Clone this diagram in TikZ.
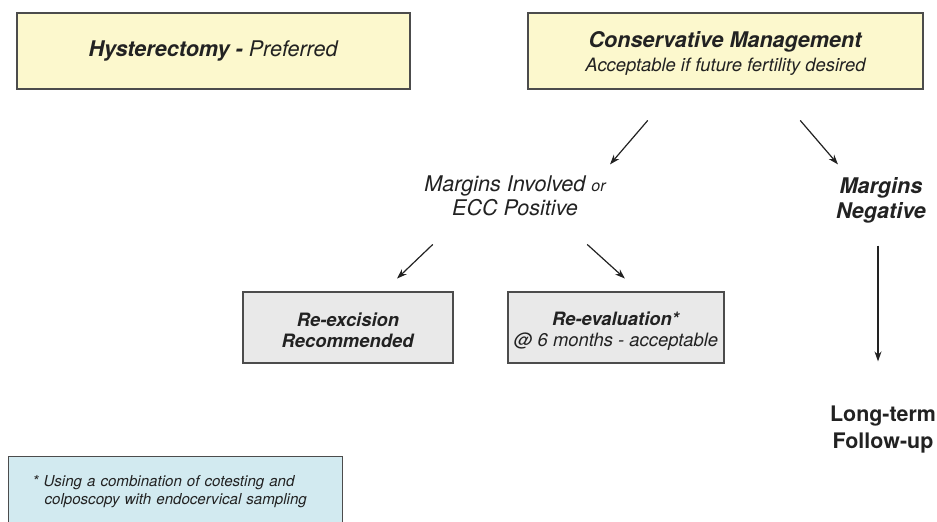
\documentclass[tikz,border=0pt]{standalone}
\usepackage{fontspec}
\setmainfont{TeX Gyre Heros}
\usetikzlibrary{arrows.meta,shapes}
\definecolor{paleyellow}{HTML}{FCF8CD}
\definecolor{palegray}{HTML}{E9E9E9}
\definecolor{paleblue}{HTML}{D2EAF0}
\definecolor{inkgray}{HTML}{222222}

\begin{document}
\begin{tikzpicture}[->,>={Stealth[length=10pt,width=7pt]},x=1pt,y=-1pt,
                    line width=1.2pt,text=inkgray,
                    yellowbox/.style={rectangle,draw=black!70,fill=paleyellow,
                        minimum width=393pt,minimum height=76pt,align=center,
                        font=\fontsize{21.6}{24}\selectfont},
                    graybox/.style={rectangle,draw=black!70,fill=palegray,
                        minimum width=210pt,minimum height=71pt,align=center,
                        font=\fontsize{18.4}{21}\selectfont},
                    notebox/.style={rectangle,draw=black!70,fill=paleblue,
                        minimum width=334pt,minimum height=70pt,text width=286pt,
                        inner xsep=24pt,align=left,
                        font=\fontsize{15.1}{17.5}\selectfont\itshape},
                    outcome/.style={inner sep=0pt,minimum height=58pt,align=center,
                        font=\fontsize{21.6}{24}\selectfont}]

        \useasboundingbox (0,0) rectangle (937,522);

        \node[yellowbox] (hyst) at (213.5,51)
              {\textbf{\textit{Hysterectomy -}} \textit{Preferred}};
        \node[yellowbox,minimum width=395pt] (cons) at (725.5,51)
              {\rule{0pt}{21pt}\textbf{\textit{Conservative Management}}\\
               {\fontsize{18.4}{22}\selectfont\itshape Acceptable if future fertility desired}};

        \node[outcome,font=\fontsize{21.6}{24}\selectfont\itshape] (inv) at (515,196)
              {Margins Involved {\fontsize{16}{20}\selectfont or}\\ECC Positive};
        \node[outcome,font=\fontsize{21.6}{25}\selectfont\bfseries\itshape] (neg) at (881,200)
              {Margins\\Negative};

        \node[graybox] (rex) at (348,327.5)
              {\rule{0pt}{20pt}\textbf{\textit{Re-excision}}\\\textbf{\textit{Recommended}}};
        \node[graybox,minimum width=216pt] (reev) at (616,327.5)
              {\rule{0pt}{20pt}\textbf{\textit{Re-evaluation*}}\\\textit{@ 6 months - acceptable}};

        \node[outcome,font=\fontsize{21.4}{27}\selectfont\bfseries] (fup) at (883,430)
              {Long-term\\Follow-up};

        \node[notebox,anchor=north west] (note) at (8,456)
              {* Using a combination of cotesting and\\
               \hspace*{12pt}colposcopy with endocervical sampling};

        \path[every edge/.append style={draw=inkgray}]
              ([xshift=-51.3pt]cons.south) edge[shorten <=40.6pt,shorten >=2.6pt]
                      ([xshift=93.3pt]inv.north)
              ([xshift=48.3pt]cons.south)  edge[shorten <=40.6pt,shorten >=7.9pt]
                      ([xshift=-37.9pt]neg.north)
              ([xshift=-62.5pt]inv.south)  edge[shorten <=27.3pt,shorten >=18.6pt]
                      ([xshift=35.6pt]rex.north)
              ([xshift=51.4pt]inv.south)   edge[shorten <=28pt,shorten >=19.2pt]
                      ([xshift=23.1pt]reev.north)
              ([xshift=-3pt]neg.south)     edge[shorten <=16pt,shorten >=39pt]
                      ([xshift=-5pt]fup.north);

      \end{tikzpicture}
\end{document}
